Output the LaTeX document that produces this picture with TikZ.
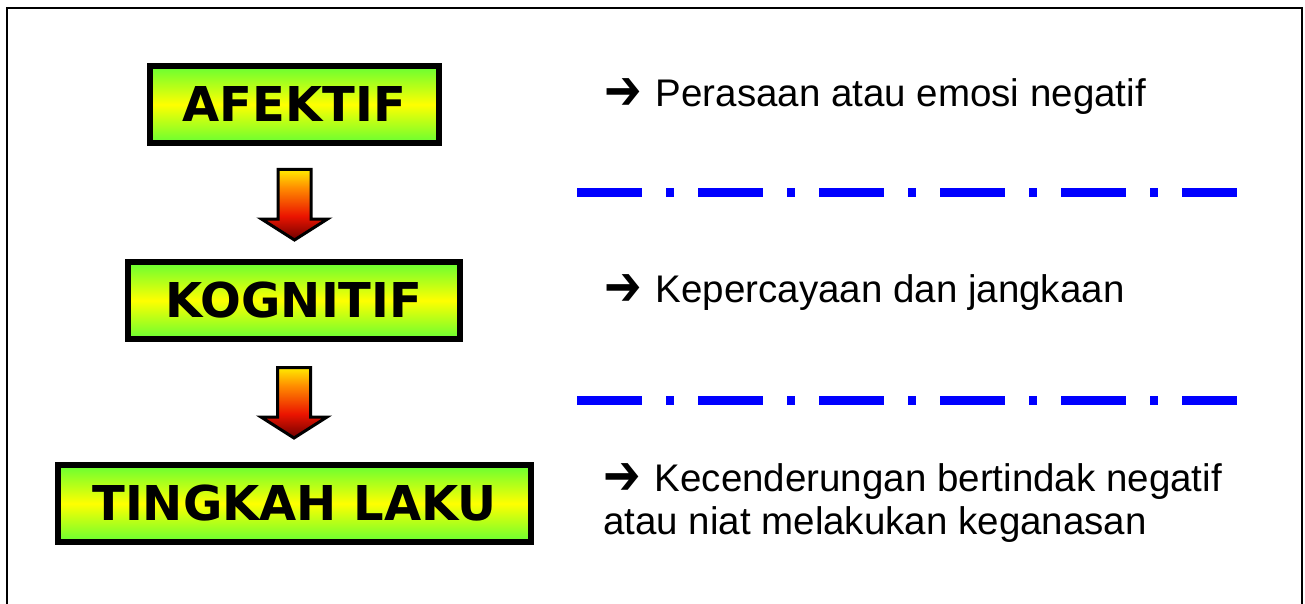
\documentclass[tikz,border=0pt]{standalone}
\usepackage{fontspec}
\setmainfont{Liberation Sans}
\newfontfamily\boxfont{DejaVu Sans}
\newfontfamily\symfont{DejaVu Sans}
\usetikzlibrary{calc}
\definecolor{boxgreen}{RGB}{102,255,51}
\definecolor{boxyellow}{RGB}{255,255,0}
\definecolor{arrowyellow}{RGB}{255,235,0}
\definecolor{arroworange}{RGB}{255,140,0}
\definecolor{arrowred}{RGB}{235,20,0}
\definecolor{arrowdark}{RGB}{110,0,0}
\pgfdeclareverticalshading{arrowshade}{100bp}{color(0bp)=(arrowdark); color(25bp)=(arrowdark); color(42bp)=(arrowred); color(62bp)=(arroworange); color(75bp)=(arrowyellow); color(100bp)=(arrowyellow)}
\newcommand{\pointer}{{\symfont\bfseries\fontsize{56}{43}\selectfont\raisebox{-3pt}{\scalebox{0.8}[1]{➔}}}\hspace{14pt}}
\begin{document}
\begin{tikzpicture}[x=1pt,y=-1pt,
	box/.style={draw=black,line width=6pt,inner sep=0pt,minimum height=77pt,top color=boxgreen,bottom color=boxgreen,middle color=boxyellow,font=\boxfont\bfseries\fontsize{48}{56}\selectfont},
	desc/.style={anchor=base west,inner sep=0pt,align=left,font=\fontsize{38.5}{43}\selectfont},
	dashline/.style={blue,line width=9pt,dash pattern=on 65pt off 24pt on 8pt off 24pt},
	pics/downarrow/.style={code={\draw[line width=3pt,line join=miter,shading=arrowshade] (-16.5,1.5)--(16.5,1.5)--(16.5,51)--(33,51)--(0,72)--(-33,51)--(-16.5,51)--cycle;}}]
	\useasboundingbox (0,0) rectangle (1305,604);
	\draw[line width=2pt] (7,604)--(7,8)--(1302,8)--(1302,604);
	\node[box,minimum width=289pt] (afektif) at (294.5,104.5) {AFEKTIF};
	\node[box,minimum width=332pt] (kognitif) at (294,300.5) {KOGNITIF};
	\node[box,minimum width=473pt] (tingkah) at (294.5,503.5) {TINGKAH LAKU};
	\path ($(afektif.south)+(0,22)$) pic {downarrow};
	\path ($(kognitif.south)+(0,24)$) pic {downarrow};
	\node[desc] (perasaan) at (604,107) {\pointer Perasaan atau emosi negatif};
	\node[desc] (kepercayaan) at (604,302) {\pointer Kepercayaan dan jangkaan};
	\node[desc] (kecenderungan) at (603,534) {\pointer Kecenderungan bertindak negatif\\atau niat melakukan keganasan};
	\draw[dashline] (577,192)--(1237,192);
	\draw[dashline] (577,400)--(1237,400);
\end{tikzpicture}
\end{document}
